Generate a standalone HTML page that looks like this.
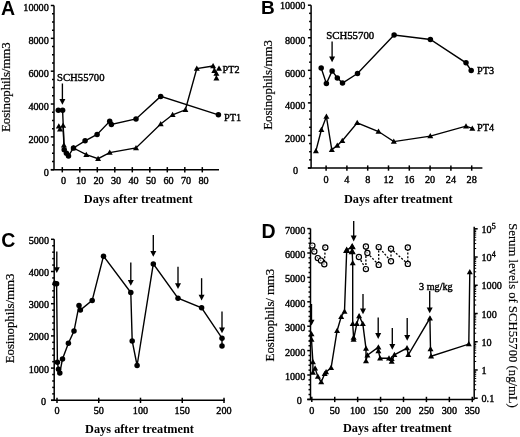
<!DOCTYPE html><html><head><meta charset="utf-8"><style>html,body{margin:0;padding:0;background:#fff;}svg{display:block;filter:grayscale(1) blur(0.3px);}</style></head><body>
<svg width="520" height="437" viewBox="0 0 520 437" stroke="#000" fill="#000" style="font-family:'Liberation Serif',serif">
<rect width="520" height="437" fill="#fff" stroke="none"/>
<g stroke="#000" stroke-linecap="butt">
<line x1="54.00" y1="5.50" x2="54.00" y2="169.70" stroke-width="1.5"/>
<line x1="50.80" y1="169.70" x2="54.00" y2="169.70" stroke-width="1.5"/>
<text stroke="#000" stroke-width="0.4" x="48.80" y="175.60" font-size="10.2" text-anchor="end" font-weight="normal" font-family="Liberation Serif">0</text>
<line x1="52.00" y1="161.49" x2="54.00" y2="161.49" stroke-width="1.5"/>
<line x1="52.00" y1="153.28" x2="54.00" y2="153.28" stroke-width="1.5"/>
<line x1="52.00" y1="145.07" x2="54.00" y2="145.07" stroke-width="1.5"/>
<line x1="50.80" y1="136.86" x2="54.00" y2="136.86" stroke-width="1.5"/>
<text stroke="#000" stroke-width="0.4" x="48.80" y="142.76" font-size="10.2" text-anchor="end" font-weight="normal" font-family="Liberation Serif">2000</text>
<line x1="52.00" y1="128.65" x2="54.00" y2="128.65" stroke-width="1.5"/>
<line x1="52.00" y1="120.44" x2="54.00" y2="120.44" stroke-width="1.5"/>
<line x1="52.00" y1="112.23" x2="54.00" y2="112.23" stroke-width="1.5"/>
<line x1="50.80" y1="104.02" x2="54.00" y2="104.02" stroke-width="1.5"/>
<text stroke="#000" stroke-width="0.4" x="48.80" y="109.92" font-size="10.2" text-anchor="end" font-weight="normal" font-family="Liberation Serif">4000</text>
<line x1="52.00" y1="95.81" x2="54.00" y2="95.81" stroke-width="1.5"/>
<line x1="52.00" y1="87.60" x2="54.00" y2="87.60" stroke-width="1.5"/>
<line x1="52.00" y1="79.39" x2="54.00" y2="79.39" stroke-width="1.5"/>
<line x1="50.80" y1="71.18" x2="54.00" y2="71.18" stroke-width="1.5"/>
<text stroke="#000" stroke-width="0.4" x="48.80" y="77.08" font-size="10.2" text-anchor="end" font-weight="normal" font-family="Liberation Serif">6000</text>
<line x1="52.00" y1="62.97" x2="54.00" y2="62.97" stroke-width="1.5"/>
<line x1="52.00" y1="54.76" x2="54.00" y2="54.76" stroke-width="1.5"/>
<line x1="52.00" y1="46.55" x2="54.00" y2="46.55" stroke-width="1.5"/>
<line x1="50.80" y1="38.34" x2="54.00" y2="38.34" stroke-width="1.5"/>
<text stroke="#000" stroke-width="0.4" x="48.80" y="44.24" font-size="10.2" text-anchor="end" font-weight="normal" font-family="Liberation Serif">8000</text>
<line x1="52.00" y1="30.13" x2="54.00" y2="30.13" stroke-width="1.5"/>
<line x1="52.00" y1="21.92" x2="54.00" y2="21.92" stroke-width="1.5"/>
<line x1="52.00" y1="13.71" x2="54.00" y2="13.71" stroke-width="1.5"/>
<line x1="50.80" y1="5.50" x2="54.00" y2="5.50" stroke-width="1.5"/>
<text stroke="#000" stroke-width="0.4" x="48.80" y="11.40" font-size="10.2" text-anchor="end" font-weight="normal" font-family="Liberation Serif">10000</text>
<line x1="50.80" y1="169.70" x2="219.00" y2="169.70" stroke-width="1.5"/>
<line x1="62.30" y1="167.10" x2="62.30" y2="172.40" stroke-width="1.5"/>
<text stroke="#000" stroke-width="0.4" x="63.60" y="184.00" font-size="10.2" text-anchor="middle" font-weight="normal" font-family="Liberation Serif">0</text>
<line x1="79.80" y1="167.10" x2="79.80" y2="172.40" stroke-width="1.5"/>
<text stroke="#000" stroke-width="0.4" x="81.10" y="184.00" font-size="10.2" text-anchor="middle" font-weight="normal" font-family="Liberation Serif">10</text>
<line x1="97.30" y1="167.10" x2="97.30" y2="172.40" stroke-width="1.5"/>
<text stroke="#000" stroke-width="0.4" x="98.60" y="184.00" font-size="10.2" text-anchor="middle" font-weight="normal" font-family="Liberation Serif">20</text>
<line x1="114.80" y1="167.10" x2="114.80" y2="172.40" stroke-width="1.5"/>
<text stroke="#000" stroke-width="0.4" x="116.10" y="184.00" font-size="10.2" text-anchor="middle" font-weight="normal" font-family="Liberation Serif">30</text>
<line x1="132.30" y1="167.10" x2="132.30" y2="172.40" stroke-width="1.5"/>
<text stroke="#000" stroke-width="0.4" x="133.60" y="184.00" font-size="10.2" text-anchor="middle" font-weight="normal" font-family="Liberation Serif">40</text>
<line x1="149.80" y1="167.10" x2="149.80" y2="172.40" stroke-width="1.5"/>
<text stroke="#000" stroke-width="0.4" x="151.10" y="184.00" font-size="10.2" text-anchor="middle" font-weight="normal" font-family="Liberation Serif">50</text>
<line x1="167.30" y1="167.10" x2="167.30" y2="172.40" stroke-width="1.5"/>
<text stroke="#000" stroke-width="0.4" x="168.60" y="184.00" font-size="10.2" text-anchor="middle" font-weight="normal" font-family="Liberation Serif">60</text>
<line x1="184.80" y1="167.10" x2="184.80" y2="172.40" stroke-width="1.5"/>
<text stroke="#000" stroke-width="0.4" x="186.10" y="184.00" font-size="10.2" text-anchor="middle" font-weight="normal" font-family="Liberation Serif">70</text>
<line x1="202.30" y1="167.10" x2="202.30" y2="172.40" stroke-width="1.5"/>
<text stroke="#000" stroke-width="0.4" x="203.60" y="184.00" font-size="10.2" text-anchor="middle" font-weight="normal" font-family="Liberation Serif">80</text>
<text stroke="#000" stroke-width="0" x="138.20" y="203.30" font-size="12.3" text-anchor="middle" font-weight="bold" font-family="Liberation Serif">Days after treatment</text>
<text stroke="#000" stroke-width="0.2" x="10.00" y="87.20" font-size="13" text-anchor="middle" font-weight="normal" font-family="Liberation Serif" transform="rotate(-90 10.00 87.20)" letter-spacing="-0.15">Eosinophils/mm3</text>
<text stroke="none" x="0.9" y="14.6" font-size="19.5" font-weight="bold" font-family="Liberation Sans">A</text>
<text stroke="#000" stroke-width="0.4" x="57.00" y="81.40" font-size="10.7" text-anchor="start" font-weight="normal" font-family="Liberation Serif">SCH55700</text>
<line x1="62.40" y1="83.50" x2="62.40" y2="100.00" stroke-width="1.35"/>
<polygon points="59.40,99.00 65.40,99.00 62.40,104.80" fill="#000" stroke="none"/>
<polyline points="62.60,110.20 64.20,149.80 66.40,153.30 68.50,155.90 73.50,148.00 85.10,140.80 97.10,134.40 109.70,121.30 111.40,124.40 136.00,118.90 160.70,96.40 218.40,114.80" fill="none" stroke-width="1.4"/>
<polyline points="63.10,125.60 63.90,145.20 64.20,149.80" fill="none" stroke-width="1.4"/>
<polyline points="73.50,148.00 86.30,154.70 98.10,158.70 109.70,152.60 136.00,147.90 160.70,124.00 172.60,114.80 185.40,109.80 196.80,68.50 213.10,66.00" fill="none" stroke-width="1.4"/>
<line x1="213.10" y1="66.00" x2="216.40" y2="73.60" stroke-width="1.4"/>
<line x1="216.40" y1="73.60" x2="216.40" y2="78.20" stroke-width="1.4"/>
<circle cx="58.30" cy="110.20" r="2.75" fill="#000" stroke="none"/>
<circle cx="62.60" cy="110.20" r="2.75" fill="#000" stroke="none"/>
<circle cx="64.20" cy="149.80" r="2.75" fill="#000" stroke="none"/>
<circle cx="66.40" cy="153.30" r="2.75" fill="#000" stroke="none"/>
<circle cx="68.50" cy="155.90" r="2.75" fill="#000" stroke="none"/>
<circle cx="73.50" cy="148.00" r="2.75" fill="#000" stroke="none"/>
<circle cx="85.10" cy="140.80" r="2.75" fill="#000" stroke="none"/>
<circle cx="97.10" cy="134.40" r="2.75" fill="#000" stroke="none"/>
<circle cx="109.70" cy="121.30" r="2.75" fill="#000" stroke="none"/>
<circle cx="111.40" cy="124.40" r="2.75" fill="#000" stroke="none"/>
<circle cx="136.00" cy="118.90" r="2.75" fill="#000" stroke="none"/>
<circle cx="160.70" cy="96.40" r="2.75" fill="#000" stroke="none"/>
<circle cx="218.40" cy="114.80" r="2.75" fill="#000" stroke="none"/>
<polygon points="58.80,123.30 61.80,128.55 55.80,128.55" fill="#000" stroke="none"/>
<polygon points="60.00,126.20 63.00,131.45 57.00,131.45" fill="#000" stroke="none"/>
<polygon points="63.10,122.60 66.10,127.85 60.10,127.85" fill="#000" stroke="none"/>
<polygon points="63.90,142.20 66.90,147.45 60.90,147.45" fill="#000" stroke="none"/>
<polygon points="73.50,145.00 76.50,150.25 70.50,150.25" fill="#000" stroke="none"/>
<polygon points="86.30,151.70 89.30,156.95 83.30,156.95" fill="#000" stroke="none"/>
<polygon points="98.10,155.70 101.10,160.95 95.10,160.95" fill="#000" stroke="none"/>
<polygon points="109.70,149.60 112.70,154.85 106.70,154.85" fill="#000" stroke="none"/>
<polygon points="136.00,144.90 139.00,150.15 133.00,150.15" fill="#000" stroke="none"/>
<polygon points="160.70,121.00 163.70,126.25 157.70,126.25" fill="#000" stroke="none"/>
<polygon points="172.60,111.80 175.60,117.05 169.60,117.05" fill="#000" stroke="none"/>
<polygon points="185.40,106.80 188.40,112.05 182.40,112.05" fill="#000" stroke="none"/>
<polygon points="196.80,65.50 199.80,70.75 193.80,70.75" fill="#000" stroke="none"/>
<polygon points="213.10,63.00 216.10,68.25 210.10,68.25" fill="#000" stroke="none"/>
<polygon points="214.30,67.80 217.30,73.05 211.30,73.05" fill="#000" stroke="none"/>
<polygon points="216.40,70.60 219.40,75.85 213.40,75.85" fill="#000" stroke="none"/>
<polygon points="219.00,65.40 222.00,70.65 216.00,70.65" fill="#000" stroke="none"/>
<polygon points="216.40,75.20 219.40,80.45 213.40,80.45" fill="#000" stroke="none"/>
<text stroke="#000" stroke-width="0.4" x="222.60" y="73.30" font-size="10.2" text-anchor="start" font-weight="normal" font-family="Liberation Serif">PT2</text>
<text stroke="#000" stroke-width="0.4" x="224.10" y="121.00" font-size="10.2" text-anchor="start" font-weight="normal" font-family="Liberation Serif">PT1</text>
<line x1="311.10" y1="5.20" x2="311.10" y2="168.00" stroke-width="1.5"/>
<line x1="307.90" y1="168.00" x2="311.10" y2="168.00" stroke-width="1.5"/>
<text stroke="#000" stroke-width="0.4" x="298.20" y="174.30" font-size="10.2" text-anchor="end" font-weight="normal" font-family="Liberation Serif">0</text>
<line x1="309.10" y1="159.86" x2="311.10" y2="159.86" stroke-width="1.5"/>
<line x1="309.10" y1="151.72" x2="311.10" y2="151.72" stroke-width="1.5"/>
<line x1="309.10" y1="143.58" x2="311.10" y2="143.58" stroke-width="1.5"/>
<line x1="307.90" y1="135.44" x2="311.10" y2="135.44" stroke-width="1.5"/>
<text stroke="#000" stroke-width="0.4" x="305.40" y="141.74" font-size="10.2" text-anchor="end" font-weight="normal" font-family="Liberation Serif">2000</text>
<line x1="309.10" y1="127.30" x2="311.10" y2="127.30" stroke-width="1.5"/>
<line x1="309.10" y1="119.16" x2="311.10" y2="119.16" stroke-width="1.5"/>
<line x1="309.10" y1="111.02" x2="311.10" y2="111.02" stroke-width="1.5"/>
<line x1="307.90" y1="102.88" x2="311.10" y2="102.88" stroke-width="1.5"/>
<text stroke="#000" stroke-width="0.4" x="305.40" y="109.18" font-size="10.2" text-anchor="end" font-weight="normal" font-family="Liberation Serif">4000</text>
<line x1="309.10" y1="94.74" x2="311.10" y2="94.74" stroke-width="1.5"/>
<line x1="309.10" y1="86.60" x2="311.10" y2="86.60" stroke-width="1.5"/>
<line x1="309.10" y1="78.46" x2="311.10" y2="78.46" stroke-width="1.5"/>
<line x1="307.90" y1="70.32" x2="311.10" y2="70.32" stroke-width="1.5"/>
<text stroke="#000" stroke-width="0.4" x="305.40" y="76.62" font-size="10.2" text-anchor="end" font-weight="normal" font-family="Liberation Serif">6000</text>
<line x1="309.10" y1="62.18" x2="311.10" y2="62.18" stroke-width="1.5"/>
<line x1="309.10" y1="54.04" x2="311.10" y2="54.04" stroke-width="1.5"/>
<line x1="309.10" y1="45.90" x2="311.10" y2="45.90" stroke-width="1.5"/>
<line x1="307.90" y1="37.76" x2="311.10" y2="37.76" stroke-width="1.5"/>
<text stroke="#000" stroke-width="0.4" x="305.40" y="44.06" font-size="10.2" text-anchor="end" font-weight="normal" font-family="Liberation Serif">8000</text>
<line x1="309.10" y1="29.62" x2="311.10" y2="29.62" stroke-width="1.5"/>
<line x1="309.10" y1="21.48" x2="311.10" y2="21.48" stroke-width="1.5"/>
<line x1="309.10" y1="13.34" x2="311.10" y2="13.34" stroke-width="1.5"/>
<line x1="307.90" y1="5.20" x2="311.10" y2="5.20" stroke-width="1.5"/>
<text stroke="#000" stroke-width="0.4" x="305.40" y="8.80" font-size="10.2" text-anchor="end" font-weight="normal" font-family="Liberation Serif">10000</text>
<line x1="307.90" y1="168.00" x2="482.40" y2="168.00" stroke-width="1.5"/>
<line x1="326.10" y1="165.40" x2="326.10" y2="170.70" stroke-width="1.5"/>
<text stroke="#000" stroke-width="0.4" x="326.10" y="182.60" font-size="10.2" text-anchor="middle" font-weight="normal" font-family="Liberation Serif">0</text>
<line x1="346.90" y1="165.40" x2="346.90" y2="170.70" stroke-width="1.5"/>
<text stroke="#000" stroke-width="0.4" x="346.90" y="182.60" font-size="10.2" text-anchor="middle" font-weight="normal" font-family="Liberation Serif">4</text>
<line x1="367.70" y1="165.40" x2="367.70" y2="170.70" stroke-width="1.5"/>
<text stroke="#000" stroke-width="0.4" x="367.70" y="182.60" font-size="10.2" text-anchor="middle" font-weight="normal" font-family="Liberation Serif">8</text>
<line x1="388.50" y1="165.40" x2="388.50" y2="170.70" stroke-width="1.5"/>
<text stroke="#000" stroke-width="0.4" x="388.50" y="182.60" font-size="10.2" text-anchor="middle" font-weight="normal" font-family="Liberation Serif">12</text>
<line x1="409.30" y1="165.40" x2="409.30" y2="170.70" stroke-width="1.5"/>
<text stroke="#000" stroke-width="0.4" x="409.30" y="182.60" font-size="10.2" text-anchor="middle" font-weight="normal" font-family="Liberation Serif">16</text>
<line x1="430.10" y1="165.40" x2="430.10" y2="170.70" stroke-width="1.5"/>
<text stroke="#000" stroke-width="0.4" x="430.10" y="182.60" font-size="10.2" text-anchor="middle" font-weight="normal" font-family="Liberation Serif">20</text>
<line x1="450.90" y1="165.40" x2="450.90" y2="170.70" stroke-width="1.5"/>
<text stroke="#000" stroke-width="0.4" x="450.90" y="182.60" font-size="10.2" text-anchor="middle" font-weight="normal" font-family="Liberation Serif">24</text>
<line x1="471.70" y1="165.40" x2="471.70" y2="170.70" stroke-width="1.5"/>
<text stroke="#000" stroke-width="0.4" x="471.70" y="182.60" font-size="10.2" text-anchor="middle" font-weight="normal" font-family="Liberation Serif">28</text>
<text stroke="#000" stroke-width="0" x="398.30" y="203.00" font-size="12.3" text-anchor="middle" font-weight="bold" font-family="Liberation Serif">Days after treatment</text>
<text stroke="#000" stroke-width="0.2" x="272.30" y="85.00" font-size="13" text-anchor="middle" font-weight="normal" font-family="Liberation Serif" transform="rotate(-90 272.30 85.00)" letter-spacing="-0.15">Eosinophils/mm3</text>
<text stroke="none" x="261.0" y="13.9" font-size="19" font-weight="bold" font-family="Liberation Sans">B</text>
<text stroke="#000" stroke-width="0.4" x="326.20" y="39.20" font-size="10.8" text-anchor="start" font-weight="normal" font-family="Liberation Serif">SCH55700</text>
<line x1="332.10" y1="41.50" x2="332.10" y2="57.50" stroke-width="1.35"/>
<polygon points="329.10,56.50 335.10,56.50 332.10,62.30" fill="#000" stroke="none"/>
<polyline points="321.20,68.00 326.40,83.60 332.10,70.90 337.30,77.90 342.50,83.10 357.50,73.50 394.10,35.00 430.40,39.50 466.00,62.80 471.20,70.60" fill="none" stroke-width="1.4"/>
<polyline points="315.90,150.90 321.40,129.80 326.40,116.60 331.80,149.80 337.30,145.40 342.30,140.80 357.20,122.80 378.50,131.50 393.80,141.60 430.30,136.10 466.00,126.20 472.30,128.40" fill="none" stroke-width="1.4"/>
<circle cx="321.20" cy="68.00" r="2.75" fill="#000" stroke="none"/>
<circle cx="326.40" cy="83.60" r="2.75" fill="#000" stroke="none"/>
<circle cx="332.10" cy="70.90" r="2.75" fill="#000" stroke="none"/>
<circle cx="337.30" cy="77.90" r="2.75" fill="#000" stroke="none"/>
<circle cx="342.50" cy="83.10" r="2.75" fill="#000" stroke="none"/>
<circle cx="357.50" cy="73.50" r="2.75" fill="#000" stroke="none"/>
<circle cx="394.10" cy="35.00" r="2.75" fill="#000" stroke="none"/>
<circle cx="430.40" cy="39.50" r="2.75" fill="#000" stroke="none"/>
<circle cx="466.00" cy="62.80" r="2.75" fill="#000" stroke="none"/>
<circle cx="471.20" cy="70.60" r="2.75" fill="#000" stroke="none"/>
<polygon points="315.90,147.90 318.90,153.15 312.90,153.15" fill="#000" stroke="none"/>
<polygon points="321.40,126.80 324.40,132.05 318.40,132.05" fill="#000" stroke="none"/>
<polygon points="326.40,113.60 329.40,118.85 323.40,118.85" fill="#000" stroke="none"/>
<polygon points="331.80,146.80 334.80,152.05 328.80,152.05" fill="#000" stroke="none"/>
<polygon points="337.30,142.40 340.30,147.65 334.30,147.65" fill="#000" stroke="none"/>
<polygon points="342.30,137.80 345.30,143.05 339.30,143.05" fill="#000" stroke="none"/>
<polygon points="357.20,119.80 360.20,125.05 354.20,125.05" fill="#000" stroke="none"/>
<polygon points="378.50,128.50 381.50,133.75 375.50,133.75" fill="#000" stroke="none"/>
<polygon points="393.80,138.60 396.80,143.85 390.80,143.85" fill="#000" stroke="none"/>
<polygon points="430.30,133.10 433.30,138.35 427.30,138.35" fill="#000" stroke="none"/>
<polygon points="466.00,123.20 469.00,128.45 463.00,128.45" fill="#000" stroke="none"/>
<polygon points="472.30,125.40 475.30,130.65 469.30,130.65" fill="#000" stroke="none"/>
<text stroke="#000" stroke-width="0.4" x="477.00" y="74.20" font-size="10.2" text-anchor="start" font-weight="normal" font-family="Liberation Serif">PT3</text>
<text stroke="#000" stroke-width="0.4" x="477.00" y="131.40" font-size="10.2" text-anchor="start" font-weight="normal" font-family="Liberation Serif">PT4</text>
<line x1="54.20" y1="239.30" x2="54.20" y2="400.30" stroke-width="1.5"/>
<line x1="51.00" y1="400.30" x2="54.20" y2="400.30" stroke-width="1.5"/>
<text stroke="#000" stroke-width="0.4" x="46.20" y="404.80" font-size="10.2" text-anchor="end" font-weight="normal" font-family="Liberation Serif">0</text>
<line x1="52.20" y1="393.86" x2="54.20" y2="393.86" stroke-width="1.5"/>
<line x1="52.20" y1="387.42" x2="54.20" y2="387.42" stroke-width="1.5"/>
<line x1="52.20" y1="380.98" x2="54.20" y2="380.98" stroke-width="1.5"/>
<line x1="52.20" y1="374.54" x2="54.20" y2="374.54" stroke-width="1.5"/>
<line x1="51.00" y1="368.10" x2="54.20" y2="368.10" stroke-width="1.5"/>
<text stroke="#000" stroke-width="0.4" x="49.00" y="372.60" font-size="10.2" text-anchor="end" font-weight="normal" font-family="Liberation Serif">1000</text>
<line x1="52.20" y1="361.66" x2="54.20" y2="361.66" stroke-width="1.5"/>
<line x1="52.20" y1="355.22" x2="54.20" y2="355.22" stroke-width="1.5"/>
<line x1="52.20" y1="348.78" x2="54.20" y2="348.78" stroke-width="1.5"/>
<line x1="52.20" y1="342.34" x2="54.20" y2="342.34" stroke-width="1.5"/>
<line x1="51.00" y1="335.90" x2="54.20" y2="335.90" stroke-width="1.5"/>
<text stroke="#000" stroke-width="0.4" x="49.00" y="340.40" font-size="10.2" text-anchor="end" font-weight="normal" font-family="Liberation Serif">2000</text>
<line x1="52.20" y1="329.46" x2="54.20" y2="329.46" stroke-width="1.5"/>
<line x1="52.20" y1="323.02" x2="54.20" y2="323.02" stroke-width="1.5"/>
<line x1="52.20" y1="316.58" x2="54.20" y2="316.58" stroke-width="1.5"/>
<line x1="52.20" y1="310.14" x2="54.20" y2="310.14" stroke-width="1.5"/>
<line x1="51.00" y1="303.70" x2="54.20" y2="303.70" stroke-width="1.5"/>
<text stroke="#000" stroke-width="0.4" x="49.00" y="308.20" font-size="10.2" text-anchor="end" font-weight="normal" font-family="Liberation Serif">3000</text>
<line x1="52.20" y1="297.26" x2="54.20" y2="297.26" stroke-width="1.5"/>
<line x1="52.20" y1="290.82" x2="54.20" y2="290.82" stroke-width="1.5"/>
<line x1="52.20" y1="284.38" x2="54.20" y2="284.38" stroke-width="1.5"/>
<line x1="52.20" y1="277.94" x2="54.20" y2="277.94" stroke-width="1.5"/>
<line x1="51.00" y1="271.50" x2="54.20" y2="271.50" stroke-width="1.5"/>
<text stroke="#000" stroke-width="0.4" x="49.00" y="276.00" font-size="10.2" text-anchor="end" font-weight="normal" font-family="Liberation Serif">4000</text>
<line x1="52.20" y1="265.06" x2="54.20" y2="265.06" stroke-width="1.5"/>
<line x1="52.20" y1="258.62" x2="54.20" y2="258.62" stroke-width="1.5"/>
<line x1="52.20" y1="252.18" x2="54.20" y2="252.18" stroke-width="1.5"/>
<line x1="52.20" y1="245.74" x2="54.20" y2="245.74" stroke-width="1.5"/>
<line x1="51.00" y1="239.30" x2="54.20" y2="239.30" stroke-width="1.5"/>
<text stroke="#000" stroke-width="0.4" x="49.00" y="243.80" font-size="10.2" text-anchor="end" font-weight="normal" font-family="Liberation Serif">5000</text>
<line x1="51.00" y1="400.30" x2="224.80" y2="400.30" stroke-width="1.5"/>
<line x1="57.00" y1="397.70" x2="57.00" y2="403.00" stroke-width="1.5"/>
<text stroke="#000" stroke-width="0.4" x="57.00" y="413.80" font-size="10.2" text-anchor="middle" font-weight="normal" font-family="Liberation Serif">0</text>
<line x1="98.75" y1="397.70" x2="98.75" y2="403.00" stroke-width="1.5"/>
<text stroke="#000" stroke-width="0.4" x="98.75" y="413.80" font-size="10.2" text-anchor="middle" font-weight="normal" font-family="Liberation Serif">50</text>
<line x1="140.50" y1="397.70" x2="140.50" y2="403.00" stroke-width="1.5"/>
<text stroke="#000" stroke-width="0.4" x="140.50" y="413.80" font-size="10.2" text-anchor="middle" font-weight="normal" font-family="Liberation Serif">100</text>
<line x1="182.25" y1="397.70" x2="182.25" y2="403.00" stroke-width="1.5"/>
<text stroke="#000" stroke-width="0.4" x="182.25" y="413.80" font-size="10.2" text-anchor="middle" font-weight="normal" font-family="Liberation Serif">150</text>
<line x1="224.00" y1="397.70" x2="224.00" y2="403.00" stroke-width="1.5"/>
<text stroke="#000" stroke-width="0.4" x="224.00" y="413.80" font-size="10.2" text-anchor="middle" font-weight="normal" font-family="Liberation Serif">200</text>
<text stroke="#000" stroke-width="0" x="139.50" y="432.60" font-size="12.3" text-anchor="middle" font-weight="bold" font-family="Liberation Serif">Days after treatment</text>
<text stroke="#000" stroke-width="0.2" x="14.30" y="318.50" font-size="13" text-anchor="middle" font-weight="normal" font-family="Liberation Serif" transform="rotate(-90 14.30 318.50)" letter-spacing="-0.15">Eosinophils/mm3</text>
<text stroke="none" x="1.3" y="247.3" font-size="19.5" font-weight="bold" font-family="Liberation Sans">C</text>
<circle cx="55.20" cy="283.60" r="2.75" fill="#000" stroke="none"/>
<polyline points="56.60,283.70 57.40,362.30 58.50,369.30 59.80,373.00 62.50,358.90 68.40,343.30 74.00,331.10 79.00,305.60 80.40,310.00 92.20,300.40 103.50,256.20 130.80,292.50 132.20,340.90 137.10,365.50 153.30,263.90 178.00,298.20 201.60,307.80 222.00,338.20 222.00,346.00" fill="none" stroke-width="1.4"/>
<circle cx="56.60" cy="283.70" r="2.75" fill="#000" stroke="none"/>
<circle cx="57.40" cy="362.30" r="2.75" fill="#000" stroke="none"/>
<circle cx="58.50" cy="369.30" r="2.75" fill="#000" stroke="none"/>
<circle cx="59.80" cy="373.00" r="2.75" fill="#000" stroke="none"/>
<circle cx="62.50" cy="358.90" r="2.75" fill="#000" stroke="none"/>
<circle cx="68.40" cy="343.30" r="2.75" fill="#000" stroke="none"/>
<circle cx="74.00" cy="331.10" r="2.75" fill="#000" stroke="none"/>
<circle cx="79.00" cy="305.60" r="2.75" fill="#000" stroke="none"/>
<circle cx="80.40" cy="310.00" r="2.75" fill="#000" stroke="none"/>
<circle cx="92.20" cy="300.40" r="2.75" fill="#000" stroke="none"/>
<circle cx="103.50" cy="256.20" r="2.75" fill="#000" stroke="none"/>
<circle cx="130.80" cy="292.50" r="2.75" fill="#000" stroke="none"/>
<circle cx="132.20" cy="340.90" r="2.75" fill="#000" stroke="none"/>
<circle cx="137.10" cy="365.50" r="2.75" fill="#000" stroke="none"/>
<circle cx="153.30" cy="263.90" r="2.75" fill="#000" stroke="none"/>
<circle cx="178.00" cy="298.20" r="2.75" fill="#000" stroke="none"/>
<circle cx="201.60" cy="307.80" r="2.75" fill="#000" stroke="none"/>
<circle cx="222.00" cy="338.20" r="2.75" fill="#000" stroke="none"/>
<circle cx="222.00" cy="346.00" r="2.75" fill="#000" stroke="none"/>
<line x1="56.80" y1="251.60" x2="56.80" y2="268.30" stroke-width="1.35"/>
<polygon points="53.80,267.30 59.80,267.30 56.80,273.10" fill="#000" stroke="none"/>
<line x1="130.80" y1="262.50" x2="130.80" y2="281.00" stroke-width="1.35"/>
<polygon points="127.80,280.00 133.80,280.00 130.80,285.80" fill="#000" stroke="none"/>
<line x1="153.30" y1="235.10" x2="153.30" y2="252.00" stroke-width="1.35"/>
<polygon points="150.30,251.00 156.30,251.00 153.30,256.80" fill="#000" stroke="none"/>
<line x1="178.00" y1="266.70" x2="178.00" y2="284.30" stroke-width="1.35"/>
<polygon points="175.00,283.30 181.00,283.30 178.00,289.10" fill="#000" stroke="none"/>
<line x1="201.60" y1="278.20" x2="201.60" y2="295.80" stroke-width="1.35"/>
<polygon points="198.60,294.80 204.60,294.80 201.60,300.60" fill="#000" stroke="none"/>
<line x1="222.00" y1="311.40" x2="222.00" y2="328.40" stroke-width="1.35"/>
<polygon points="219.00,327.40 225.00,327.40 222.00,333.20" fill="#000" stroke="none"/>
<line x1="310.50" y1="228.60" x2="310.50" y2="399.40" stroke-width="1.5"/>
<line x1="307.30" y1="399.40" x2="310.50" y2="399.40" stroke-width="1.5"/>
<text stroke="#000" stroke-width="0.4" x="301.80" y="404.40" font-size="10.2" text-anchor="end" font-weight="normal" font-family="Liberation Serif">0</text>
<line x1="308.50" y1="394.52" x2="310.50" y2="394.52" stroke-width="1.5"/>
<line x1="308.50" y1="389.64" x2="310.50" y2="389.64" stroke-width="1.5"/>
<line x1="308.50" y1="384.76" x2="310.50" y2="384.76" stroke-width="1.5"/>
<line x1="308.50" y1="379.88" x2="310.50" y2="379.88" stroke-width="1.5"/>
<line x1="307.30" y1="375.00" x2="310.50" y2="375.00" stroke-width="1.5"/>
<text stroke="#000" stroke-width="0.4" x="305.30" y="380.00" font-size="10.2" text-anchor="end" font-weight="normal" font-family="Liberation Serif">1000</text>
<line x1="308.50" y1="370.12" x2="310.50" y2="370.12" stroke-width="1.5"/>
<line x1="308.50" y1="365.24" x2="310.50" y2="365.24" stroke-width="1.5"/>
<line x1="308.50" y1="360.36" x2="310.50" y2="360.36" stroke-width="1.5"/>
<line x1="308.50" y1="355.48" x2="310.50" y2="355.48" stroke-width="1.5"/>
<line x1="307.30" y1="350.60" x2="310.50" y2="350.60" stroke-width="1.5"/>
<text stroke="#000" stroke-width="0.4" x="305.30" y="355.60" font-size="10.2" text-anchor="end" font-weight="normal" font-family="Liberation Serif">2000</text>
<line x1="308.50" y1="345.72" x2="310.50" y2="345.72" stroke-width="1.5"/>
<line x1="308.50" y1="340.84" x2="310.50" y2="340.84" stroke-width="1.5"/>
<line x1="308.50" y1="335.96" x2="310.50" y2="335.96" stroke-width="1.5"/>
<line x1="308.50" y1="331.08" x2="310.50" y2="331.08" stroke-width="1.5"/>
<line x1="307.30" y1="326.20" x2="310.50" y2="326.20" stroke-width="1.5"/>
<text stroke="#000" stroke-width="0.4" x="305.30" y="331.20" font-size="10.2" text-anchor="end" font-weight="normal" font-family="Liberation Serif">3000</text>
<line x1="308.50" y1="321.32" x2="310.50" y2="321.32" stroke-width="1.5"/>
<line x1="308.50" y1="316.44" x2="310.50" y2="316.44" stroke-width="1.5"/>
<line x1="308.50" y1="311.56" x2="310.50" y2="311.56" stroke-width="1.5"/>
<line x1="308.50" y1="306.68" x2="310.50" y2="306.68" stroke-width="1.5"/>
<line x1="307.30" y1="301.80" x2="310.50" y2="301.80" stroke-width="1.5"/>
<text stroke="#000" stroke-width="0.4" x="305.30" y="306.80" font-size="10.2" text-anchor="end" font-weight="normal" font-family="Liberation Serif">4000</text>
<line x1="308.50" y1="296.92" x2="310.50" y2="296.92" stroke-width="1.5"/>
<line x1="308.50" y1="292.04" x2="310.50" y2="292.04" stroke-width="1.5"/>
<line x1="308.50" y1="287.16" x2="310.50" y2="287.16" stroke-width="1.5"/>
<line x1="308.50" y1="282.28" x2="310.50" y2="282.28" stroke-width="1.5"/>
<line x1="307.30" y1="277.40" x2="310.50" y2="277.40" stroke-width="1.5"/>
<text stroke="#000" stroke-width="0.4" x="305.30" y="282.40" font-size="10.2" text-anchor="end" font-weight="normal" font-family="Liberation Serif">5000</text>
<line x1="308.50" y1="272.52" x2="310.50" y2="272.52" stroke-width="1.5"/>
<line x1="308.50" y1="267.64" x2="310.50" y2="267.64" stroke-width="1.5"/>
<line x1="308.50" y1="262.76" x2="310.50" y2="262.76" stroke-width="1.5"/>
<line x1="308.50" y1="257.88" x2="310.50" y2="257.88" stroke-width="1.5"/>
<line x1="307.30" y1="253.00" x2="310.50" y2="253.00" stroke-width="1.5"/>
<text stroke="#000" stroke-width="0.4" x="305.30" y="258.00" font-size="10.2" text-anchor="end" font-weight="normal" font-family="Liberation Serif">6000</text>
<line x1="308.50" y1="248.12" x2="310.50" y2="248.12" stroke-width="1.5"/>
<line x1="308.50" y1="243.24" x2="310.50" y2="243.24" stroke-width="1.5"/>
<line x1="308.50" y1="238.36" x2="310.50" y2="238.36" stroke-width="1.5"/>
<line x1="308.50" y1="233.48" x2="310.50" y2="233.48" stroke-width="1.5"/>
<line x1="307.30" y1="228.60" x2="310.50" y2="228.60" stroke-width="1.5"/>
<text stroke="#000" stroke-width="0.4" x="305.30" y="233.60" font-size="10.2" text-anchor="end" font-weight="normal" font-family="Liberation Serif">7000</text>
<line x1="307.30" y1="399.40" x2="474.20" y2="399.40" stroke-width="1.5"/>
<line x1="311.80" y1="396.80" x2="311.80" y2="402.10" stroke-width="1.5"/>
<text stroke="#000" stroke-width="0.4" x="311.80" y="413.60" font-size="10.2" text-anchor="middle" font-weight="normal" font-family="Liberation Serif">0</text>
<line x1="334.73" y1="396.80" x2="334.73" y2="402.10" stroke-width="1.5"/>
<text stroke="#000" stroke-width="0.4" x="334.73" y="413.60" font-size="10.2" text-anchor="middle" font-weight="normal" font-family="Liberation Serif">50</text>
<line x1="357.65" y1="396.80" x2="357.65" y2="402.10" stroke-width="1.5"/>
<text stroke="#000" stroke-width="0.4" x="357.65" y="413.60" font-size="10.2" text-anchor="middle" font-weight="normal" font-family="Liberation Serif">100</text>
<line x1="380.58" y1="396.80" x2="380.58" y2="402.10" stroke-width="1.5"/>
<text stroke="#000" stroke-width="0.4" x="380.58" y="413.60" font-size="10.2" text-anchor="middle" font-weight="normal" font-family="Liberation Serif">150</text>
<line x1="403.50" y1="396.80" x2="403.50" y2="402.10" stroke-width="1.5"/>
<text stroke="#000" stroke-width="0.4" x="403.50" y="413.60" font-size="10.2" text-anchor="middle" font-weight="normal" font-family="Liberation Serif">200</text>
<line x1="426.43" y1="396.80" x2="426.43" y2="402.10" stroke-width="1.5"/>
<text stroke="#000" stroke-width="0.4" x="426.43" y="413.60" font-size="10.2" text-anchor="middle" font-weight="normal" font-family="Liberation Serif">250</text>
<line x1="449.35" y1="396.80" x2="449.35" y2="402.10" stroke-width="1.5"/>
<text stroke="#000" stroke-width="0.4" x="449.35" y="413.60" font-size="10.2" text-anchor="middle" font-weight="normal" font-family="Liberation Serif">300</text>
<line x1="472.27" y1="396.80" x2="472.27" y2="402.10" stroke-width="1.5"/>
<text stroke="#000" stroke-width="0.4" x="472.27" y="413.60" font-size="10.2" text-anchor="middle" font-weight="normal" font-family="Liberation Serif">350</text>
<text stroke="#000" stroke-width="0" x="397.30" y="432.30" font-size="12.3" text-anchor="middle" font-weight="bold" font-family="Liberation Serif">Days after treatment</text>
<text stroke="#000" stroke-width="0.2" x="274.20" y="315.10" font-size="13" text-anchor="middle" font-weight="normal" font-family="Liberation Serif" transform="rotate(-90 274.20 315.10)" letter-spacing="-0.15">Eosinophils/ mm3</text>
<text stroke="none" x="261.6" y="237.8" font-size="19.5" font-weight="bold" font-family="Liberation Sans">D</text>
<line x1="474.20" y1="226.80" x2="474.20" y2="399.40" stroke-width="1.5"/>
<line x1="474.20" y1="398.20" x2="477.70" y2="398.20" stroke-width="1.5"/>
<line x1="474.20" y1="389.70" x2="476.20" y2="389.70" stroke-width="1.0"/>
<line x1="474.20" y1="384.73" x2="476.20" y2="384.73" stroke-width="1.0"/>
<line x1="474.20" y1="381.20" x2="476.20" y2="381.20" stroke-width="1.0"/>
<line x1="474.20" y1="378.47" x2="476.20" y2="378.47" stroke-width="1.0"/>
<line x1="474.20" y1="376.23" x2="476.20" y2="376.23" stroke-width="1.0"/>
<line x1="474.20" y1="374.34" x2="476.20" y2="374.34" stroke-width="1.0"/>
<line x1="474.20" y1="372.70" x2="476.20" y2="372.70" stroke-width="1.0"/>
<line x1="474.20" y1="371.26" x2="476.20" y2="371.26" stroke-width="1.0"/>
<line x1="474.20" y1="369.97" x2="477.70" y2="369.97" stroke-width="1.5"/>
<line x1="474.20" y1="361.47" x2="476.20" y2="361.47" stroke-width="1.0"/>
<line x1="474.20" y1="356.50" x2="476.20" y2="356.50" stroke-width="1.0"/>
<line x1="474.20" y1="352.97" x2="476.20" y2="352.97" stroke-width="1.0"/>
<line x1="474.20" y1="350.23" x2="476.20" y2="350.23" stroke-width="1.0"/>
<line x1="474.20" y1="348.00" x2="476.20" y2="348.00" stroke-width="1.0"/>
<line x1="474.20" y1="346.11" x2="476.20" y2="346.11" stroke-width="1.0"/>
<line x1="474.20" y1="344.47" x2="476.20" y2="344.47" stroke-width="1.0"/>
<line x1="474.20" y1="343.03" x2="476.20" y2="343.03" stroke-width="1.0"/>
<line x1="474.20" y1="341.73" x2="477.70" y2="341.73" stroke-width="1.5"/>
<line x1="474.20" y1="333.23" x2="476.20" y2="333.23" stroke-width="1.0"/>
<line x1="474.20" y1="328.26" x2="476.20" y2="328.26" stroke-width="1.0"/>
<line x1="474.20" y1="324.74" x2="476.20" y2="324.74" stroke-width="1.0"/>
<line x1="474.20" y1="322.00" x2="476.20" y2="322.00" stroke-width="1.0"/>
<line x1="474.20" y1="319.76" x2="476.20" y2="319.76" stroke-width="1.0"/>
<line x1="474.20" y1="317.87" x2="476.20" y2="317.87" stroke-width="1.0"/>
<line x1="474.20" y1="316.24" x2="476.20" y2="316.24" stroke-width="1.0"/>
<line x1="474.20" y1="314.79" x2="476.20" y2="314.79" stroke-width="1.0"/>
<line x1="474.20" y1="313.50" x2="477.70" y2="313.50" stroke-width="1.5"/>
<line x1="474.20" y1="305.00" x2="476.20" y2="305.00" stroke-width="1.0"/>
<line x1="474.20" y1="300.03" x2="476.20" y2="300.03" stroke-width="1.0"/>
<line x1="474.20" y1="296.50" x2="476.20" y2="296.50" stroke-width="1.0"/>
<line x1="474.20" y1="293.77" x2="476.20" y2="293.77" stroke-width="1.0"/>
<line x1="474.20" y1="291.53" x2="476.20" y2="291.53" stroke-width="1.0"/>
<line x1="474.20" y1="289.64" x2="476.20" y2="289.64" stroke-width="1.0"/>
<line x1="474.20" y1="288.00" x2="476.20" y2="288.00" stroke-width="1.0"/>
<line x1="474.20" y1="286.56" x2="476.20" y2="286.56" stroke-width="1.0"/>
<line x1="474.20" y1="285.27" x2="477.70" y2="285.27" stroke-width="1.5"/>
<line x1="474.20" y1="276.77" x2="476.20" y2="276.77" stroke-width="1.0"/>
<line x1="474.20" y1="271.80" x2="476.20" y2="271.80" stroke-width="1.0"/>
<line x1="474.20" y1="268.27" x2="476.20" y2="268.27" stroke-width="1.0"/>
<line x1="474.20" y1="265.53" x2="476.20" y2="265.53" stroke-width="1.0"/>
<line x1="474.20" y1="263.30" x2="476.20" y2="263.30" stroke-width="1.0"/>
<line x1="474.20" y1="261.41" x2="476.20" y2="261.41" stroke-width="1.0"/>
<line x1="474.20" y1="259.77" x2="476.20" y2="259.77" stroke-width="1.0"/>
<line x1="474.20" y1="258.33" x2="476.20" y2="258.33" stroke-width="1.0"/>
<line x1="474.20" y1="257.03" x2="477.70" y2="257.03" stroke-width="1.5"/>
<line x1="474.20" y1="248.53" x2="476.20" y2="248.53" stroke-width="1.0"/>
<line x1="474.20" y1="243.56" x2="476.20" y2="243.56" stroke-width="1.0"/>
<line x1="474.20" y1="240.04" x2="476.20" y2="240.04" stroke-width="1.0"/>
<line x1="474.20" y1="237.30" x2="476.20" y2="237.30" stroke-width="1.0"/>
<line x1="474.20" y1="235.06" x2="476.20" y2="235.06" stroke-width="1.0"/>
<line x1="474.20" y1="233.17" x2="476.20" y2="233.17" stroke-width="1.0"/>
<line x1="474.20" y1="231.54" x2="476.20" y2="231.54" stroke-width="1.0"/>
<line x1="474.20" y1="230.09" x2="476.20" y2="230.09" stroke-width="1.0"/>
<line x1="474.20" y1="228.80" x2="477.70" y2="228.80" stroke-width="1.5"/>
<text stroke="#000" stroke-width="0.4" x="481.50" y="232.80" font-size="10.2" text-anchor="start" font-weight="normal" font-family="Liberation Serif">10<tspan dy="-4" font-size="8">5</tspan></text>
<text stroke="#000" stroke-width="0.4" x="481.50" y="261.03" font-size="10.2" text-anchor="start" font-weight="normal" font-family="Liberation Serif">10<tspan dy="-4" font-size="8">4</tspan></text>
<text stroke="#000" stroke-width="0.4" x="481.50" y="289.27" font-size="10.2" text-anchor="start" font-weight="normal" font-family="Liberation Serif">1000</text>
<text stroke="#000" stroke-width="0.4" x="481.50" y="317.50" font-size="10.2" text-anchor="start" font-weight="normal" font-family="Liberation Serif">100</text>
<text stroke="#000" stroke-width="0.4" x="481.50" y="345.73" font-size="10.2" text-anchor="start" font-weight="normal" font-family="Liberation Serif">10</text>
<text stroke="#000" stroke-width="0.4" x="481.50" y="373.97" font-size="10.2" text-anchor="start" font-weight="normal" font-family="Liberation Serif">1</text>
<text stroke="#000" stroke-width="0.4" x="481.50" y="402.20" font-size="10.2" text-anchor="start" font-weight="normal" font-family="Liberation Serif">0.1</text>
<text stroke="#000" stroke-width="0.15" x="509.20" y="223.20" font-size="12.7" text-anchor="start" font-weight="normal" font-family="Liberation Serif" transform="rotate(90 509.20 223.20)">Serum levels of SCH55700 (ng/mL)</text>
<polyline points="311.50,334.00 311.50,339.50 312.90,362.00 312.90,372.50 315.10,368.30 317.90,376.60 321.20,382.10 324.70,373.80 326.10,371.90 331.10,367.80 337.10,330.70 341.20,316.70 344.50,311.40 346.70,250.20 352.20,246.50 352.20,251.50 352.70,263.00 352.70,323.80 353.60,337.60 353.60,339.40 356.80,323.80 359.10,316.00 362.80,323.80 366.00,348.60 366.00,360.90 367.40,355.20 378.40,347.20 378.40,351.00 380.10,358.30 389.00,358.30 391.70,358.80 391.70,361.50 394.40,354.80 407.00,348.10 408.30,354.80 429.90,318.30 430.50,348.90 431.10,356.20 468.80,344.10 469.80,272.00" fill="none" stroke-width="1.4"/>
<polygon points="311.50,331.00 314.50,336.25 308.50,336.25" fill="#000" stroke="none"/>
<polygon points="311.50,336.50 314.50,341.75 308.50,341.75" fill="#000" stroke="none"/>
<polygon points="312.90,359.00 315.90,364.25 309.90,364.25" fill="#000" stroke="none"/>
<polygon points="312.90,369.50 315.90,374.75 309.90,374.75" fill="#000" stroke="none"/>
<polygon points="315.10,365.30 318.10,370.55 312.10,370.55" fill="#000" stroke="none"/>
<polygon points="317.90,373.60 320.90,378.85 314.90,378.85" fill="#000" stroke="none"/>
<polygon points="321.20,379.10 324.20,384.35 318.20,384.35" fill="#000" stroke="none"/>
<polygon points="324.70,370.80 327.70,376.05 321.70,376.05" fill="#000" stroke="none"/>
<polygon points="326.10,368.90 329.10,374.15 323.10,374.15" fill="#000" stroke="none"/>
<polygon points="331.10,364.80 334.10,370.05 328.10,370.05" fill="#000" stroke="none"/>
<polygon points="337.10,327.70 340.10,332.95 334.10,332.95" fill="#000" stroke="none"/>
<polygon points="341.20,313.70 344.20,318.95 338.20,318.95" fill="#000" stroke="none"/>
<polygon points="344.50,308.40 347.50,313.65 341.50,313.65" fill="#000" stroke="none"/>
<polygon points="346.70,247.20 349.70,252.45 343.70,252.45" fill="#000" stroke="none"/>
<polygon points="352.20,243.50 355.20,248.75 349.20,248.75" fill="#000" stroke="none"/>
<polygon points="352.20,248.50 355.20,253.75 349.20,253.75" fill="#000" stroke="none"/>
<polygon points="352.70,260.00 355.70,265.25 349.70,265.25" fill="#000" stroke="none"/>
<polygon points="352.70,320.80 355.70,326.05 349.70,326.05" fill="#000" stroke="none"/>
<polygon points="353.60,334.60 356.60,339.85 350.60,339.85" fill="#000" stroke="none"/>
<polygon points="353.60,336.40 356.60,341.65 350.60,341.65" fill="#000" stroke="none"/>
<polygon points="356.80,320.80 359.80,326.05 353.80,326.05" fill="#000" stroke="none"/>
<polygon points="359.10,313.00 362.10,318.25 356.10,318.25" fill="#000" stroke="none"/>
<polygon points="362.80,320.80 365.80,326.05 359.80,326.05" fill="#000" stroke="none"/>
<polygon points="366.00,345.60 369.00,350.85 363.00,350.85" fill="#000" stroke="none"/>
<polygon points="366.00,357.90 369.00,363.15 363.00,363.15" fill="#000" stroke="none"/>
<polygon points="367.40,352.20 370.40,357.45 364.40,357.45" fill="#000" stroke="none"/>
<polygon points="378.40,344.20 381.40,349.45 375.40,349.45" fill="#000" stroke="none"/>
<polygon points="378.40,348.00 381.40,353.25 375.40,353.25" fill="#000" stroke="none"/>
<polygon points="380.10,355.30 383.10,360.55 377.10,360.55" fill="#000" stroke="none"/>
<polygon points="389.00,355.30 392.00,360.55 386.00,360.55" fill="#000" stroke="none"/>
<polygon points="391.70,355.80 394.70,361.05 388.70,361.05" fill="#000" stroke="none"/>
<polygon points="391.70,358.50 394.70,363.75 388.70,363.75" fill="#000" stroke="none"/>
<polygon points="394.40,351.80 397.40,357.05 391.40,357.05" fill="#000" stroke="none"/>
<polygon points="407.00,345.10 410.00,350.35 404.00,350.35" fill="#000" stroke="none"/>
<polygon points="408.30,351.80 411.30,357.05 405.30,357.05" fill="#000" stroke="none"/>
<polygon points="429.90,315.30 432.90,320.55 426.90,320.55" fill="#000" stroke="none"/>
<polygon points="430.50,345.90 433.50,351.15 427.50,351.15" fill="#000" stroke="none"/>
<polygon points="431.10,353.20 434.10,358.45 428.10,358.45" fill="#000" stroke="none"/>
<polygon points="468.80,341.10 471.80,346.35 465.80,346.35" fill="#000" stroke="none"/>
<polygon points="469.80,269.00 472.80,274.25 466.80,274.25" fill="#000" stroke="none"/>
<polygon points="346.70,246.60 350.30,252.90 343.10,252.90" fill="#000" stroke="none"/>
<polygon points="352.20,242.90 355.80,249.20 348.60,249.20" fill="#000" stroke="none"/>
<polygon points="352.20,247.90 355.80,254.20 348.60,254.20" fill="#000" stroke="none"/>
<polyline points="312.40,245.60 314.30,251.50 317.80,258.10 321.00,260.60 324.30,264.30 325.30,247.50" fill="none" stroke-width="1.3" stroke-dasharray="2,1.6"/>
<polyline points="358.90,257.00 365.90,269.10 365.90,246.50" fill="none" stroke-width="1.3" stroke-dasharray="2,1.6"/>
<polyline points="367.40,253.00 378.70,264.90 378.70,247.10 391.00,261.20 391.00,248.80 407.80,263.90 407.80,247.40" fill="none" stroke-width="1.3" stroke-dasharray="2,1.6"/>
<circle cx="312.40" cy="245.60" r="2.6" fill="#fff" stroke-width="1.2"/>
<circle cx="314.30" cy="251.50" r="2.6" fill="#fff" stroke-width="1.2"/>
<circle cx="317.80" cy="258.10" r="2.6" fill="#fff" stroke-width="1.2"/>
<circle cx="321.00" cy="260.60" r="2.6" fill="#fff" stroke-width="1.2"/>
<circle cx="324.30" cy="264.30" r="2.6" fill="#fff" stroke-width="1.2"/>
<circle cx="325.30" cy="247.50" r="2.6" fill="#fff" stroke-width="1.2"/>
<circle cx="358.90" cy="257.00" r="2.6" fill="#fff" stroke-width="1.2"/>
<circle cx="365.90" cy="246.50" r="2.6" fill="#fff" stroke-width="1.2"/>
<circle cx="367.40" cy="253.00" r="2.6" fill="#fff" stroke-width="1.2"/>
<circle cx="365.90" cy="269.10" r="2.6" fill="#fff" stroke-width="1.2"/>
<circle cx="378.70" cy="247.10" r="2.6" fill="#fff" stroke-width="1.2"/>
<circle cx="378.70" cy="264.90" r="2.6" fill="#fff" stroke-width="1.2"/>
<circle cx="391.00" cy="248.80" r="2.6" fill="#fff" stroke-width="1.2"/>
<circle cx="391.00" cy="261.20" r="2.6" fill="#fff" stroke-width="1.2"/>
<circle cx="407.80" cy="247.40" r="2.6" fill="#fff" stroke-width="1.2"/>
<circle cx="407.80" cy="263.90" r="2.6" fill="#fff" stroke-width="1.2"/>
<circle cx="312.00" cy="245.30" r="0.7" fill="#666" stroke="none"/>
<circle cx="313.90" cy="251.20" r="0.7" fill="#666" stroke="none"/>
<circle cx="317.40" cy="257.80" r="0.7" fill="#666" stroke="none"/>
<circle cx="320.60" cy="260.30" r="0.7" fill="#666" stroke="none"/>
<circle cx="323.90" cy="264.00" r="0.7" fill="#666" stroke="none"/>
<circle cx="324.90" cy="247.20" r="0.7" fill="#666" stroke="none"/>
<circle cx="358.50" cy="256.70" r="0.7" fill="#666" stroke="none"/>
<circle cx="365.50" cy="246.20" r="0.7" fill="#666" stroke="none"/>
<circle cx="367.00" cy="252.70" r="0.7" fill="#666" stroke="none"/>
<circle cx="365.50" cy="268.80" r="0.7" fill="#666" stroke="none"/>
<circle cx="378.30" cy="246.80" r="0.7" fill="#666" stroke="none"/>
<circle cx="378.30" cy="264.60" r="0.7" fill="#666" stroke="none"/>
<circle cx="390.60" cy="248.50" r="0.7" fill="#666" stroke="none"/>
<circle cx="390.60" cy="260.90" r="0.7" fill="#666" stroke="none"/>
<circle cx="407.40" cy="247.10" r="0.7" fill="#666" stroke="none"/>
<circle cx="407.40" cy="263.60" r="0.7" fill="#666" stroke="none"/>
<line x1="311.50" y1="304.00" x2="311.50" y2="320.70" stroke-width="1.35"/>
<polygon points="308.50,319.70 314.50,319.70 311.50,325.50" fill="#000" stroke="none"/>
<line x1="353.70" y1="221.00" x2="353.70" y2="236.60" stroke-width="1.35"/>
<polygon points="350.70,235.60 356.70,235.60 353.70,241.40" fill="#000" stroke="none"/>
<line x1="363.00" y1="294.00" x2="363.00" y2="309.50" stroke-width="1.35"/>
<polygon points="360.00,308.50 366.00,308.50 363.00,314.30" fill="#000" stroke="none"/>
<line x1="378.20" y1="317.40" x2="378.20" y2="334.10" stroke-width="1.35"/>
<polygon points="375.20,333.10 381.20,333.10 378.20,338.90" fill="#000" stroke="none"/>
<line x1="392.30" y1="328.00" x2="392.30" y2="345.00" stroke-width="1.35"/>
<polygon points="389.30,344.00 395.30,344.00 392.30,349.80" fill="#000" stroke="none"/>
<line x1="407.20" y1="318.00" x2="407.20" y2="336.00" stroke-width="1.35"/>
<polygon points="404.20,335.00 410.20,335.00 407.20,340.80" fill="#000" stroke="none"/>
<line x1="429.70" y1="291.00" x2="429.70" y2="308.50" stroke-width="1.35"/>
<polygon points="426.70,307.50 432.70,307.50 429.70,313.30" fill="#000" stroke="none"/>
<text stroke="#000" stroke-width="0.4" x="419.00" y="290.00" font-size="10.2" text-anchor="start" font-weight="normal" font-family="Liberation Serif">3 mg/kg</text>
</g></svg></body></html>
